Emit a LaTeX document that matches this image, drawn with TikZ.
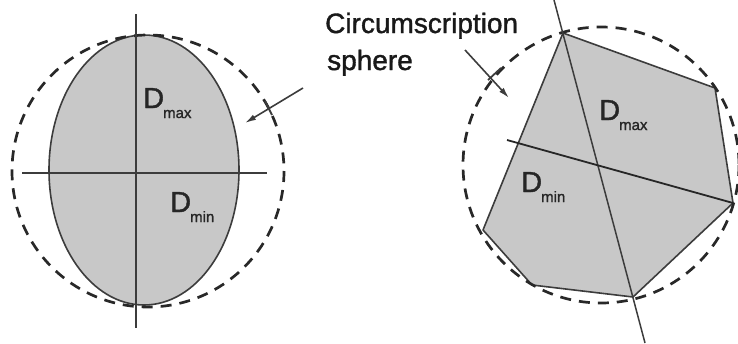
\documentclass[tikz,border=0pt]{standalone}
\usepackage{fontspec}
\setmainfont[AutoFakeBold=1.3]{Liberation Sans}
\usetikzlibrary{arrows.meta}
\definecolor{fillgray}{RGB}{200,200,200}
\definecolor{linegray}{RGB}{60,60,60}
\definecolor{dashgray}{RGB}{40,40,40}
\tikzset{
  shapefill/.style={fill=fillgray, draw=linegray, line width=1.6pt},
  axis/.style={draw=linegray, line width=1.8pt},
  circum/.style={draw=dashgray, line width=2.7pt, dash pattern=on 11pt off 8pt},
  pointer/.style={draw=linegray, line width=1.6pt, -{Latex[length=11pt,width=6pt]}},
  tickmark/.style={draw=linegray, line width=1.8pt},
  bigD/.style={inner sep=0pt, anchor=base west, font=\fontsize{29}{29}\selectfont\bfseries, text=black!85},
  label/.style={inner sep=0pt, anchor=base west, font=\fontsize{28}{28}\selectfont\bfseries, text=black!90},
}
\newcommand{\Dsub}[1]{D\kern-1pt\raisebox{-10pt}{\fontsize{15}{15}\selectfont #1}}
\begin{document}
\begin{tikzpicture}[x=1pt,y=-1pt]
\useasboundingbox (0,0) rectangle (738,343);
\clip (0,0) rectangle (738,343);
% ---------- left figure ----------
\draw[shapefill] (144,170) ellipse [x radius=95, y radius=135];
\draw[circum] (148,171) circle [radius=136];
\coordinate (vt) at (136,14);
\coordinate (vb) at (136,328);
\coordinate (hl) at (22,173);
\coordinate (hr) at (267,173);
\draw[axis] (vt) -- (vb);
\draw[axis] (hl) -- (hr);
\node[bigD] (dmaxL) at (143,108) {\Dsub{max}};
\node[bigD] (dminL) at (170,212) {\Dsub{min}};
% ---------- right figure ----------
\coordinate (p1) at (563,33);
\coordinate (p2) at (715,88);
\coordinate (p3) at (733,203);
\coordinate (p4) at (633,297);
\coordinate (p5) at (532,285);
\coordinate (p6) at (483,230);
\draw[shapefill, line join=round] (p1) -- (p2) -- (p3) -- (p4) -- (p5) -- (p6) -- cycle;
\draw[circum] (601,165) circle [radius=138];
\coordinate (mt) at (554,0);
\coordinate (mb) at (645,343);
\coordinate (ml) at (507,140);
\draw[axis, line width=1.5pt] (mt) -- (mb);
\draw[axis, draw=black!85] (ml) -- (p3);
\node[bigD] (dmaxR) at (599,120) {\Dsub{max}};
\node[bigD] (dminR) at (521,192) {\Dsub{min}};
% ---------- label and pointers ----------
\node[label] (lab1) at (325,33) {Circumscription};
\node[label] (lab2) at (327,70) {sphere};
\coordinate (a1s) at (303,88);
\coordinate (a1e) at (245,123);
\coordinate (a2s) at (465,50);
\coordinate (a2e) at (509,98);
\draw[pointer] (a1s) -- (a1e);
\draw[pointer] (a2s) -- (a2e);
\draw[tickmark] (265,101) -- (272,115);
\draw[tickmark] (488,80) -- (501,68);
\end{tikzpicture}
\end{document}
